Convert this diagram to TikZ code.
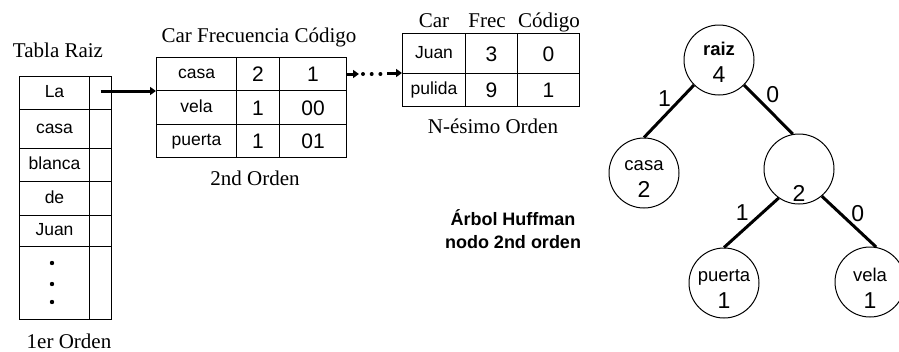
\documentclass[tikz,border=0pt]{standalone}
\usepackage{fontspec}
\setmainfont{Liberation Serif}
\setsansfont{Liberation Sans}
\usetikzlibrary{arrows.meta}
\newcommand{\cellfont}{\sffamily\fontsize{17.5}{21}\selectfont}
\newcommand{\numfont}{\sffamily\fontsize{21}{24}\selectfont}
\newcommand{\treefont}{\sffamily\fontsize{18.5}{22}\selectfont}
\newcommand{\treenum}{\sffamily\fontsize{23}{26}\selectfont}
\newcommand{\headfont}{\rmfamily\fontsize{21}{24}\selectfont}

\begin{document}
\begin{tikzpicture}[x=1pt,y=-1pt,
  cell/.style={draw,line width=1pt,inner sep=0pt,anchor=north west,font=\cellfont,text height=9pt,text depth=0pt},
  numcell/.style={cell,font=\numfont,text height=15pt},
  head/.style={font=\headfont,inner sep=0pt,anchor=base},
  hnode/.style={draw,circle,line width=1pt,minimum size=70pt,inner sep=0pt},
  hlabel/.style={align=center,font=\treefont,inner sep=0pt,yshift=#1},
  branch/.style={line width=3pt},
  bit/.style={font=\treenum,inner sep=0pt},
  link/.style={line width=3pt,-{Triangle[length=6pt,width=8pt]}}]

\useasboundingbox (0,0) rectangle (899,351);

\node[head] (tabla) at (58,57) {Tabla Raiz};
\node[cell,minimum width=70pt,minimum height=33pt] (r1a) at (19,76) {La};
\node[cell,minimum width=22pt,minimum height=33pt] (r1b) at (89,76) {};
\node[cell,minimum width=70pt,minimum height=39pt] (r2a) at (19,109) {casa};
\node[cell,minimum width=22pt,minimum height=39pt] (r2b) at (89,109) {};
\node[cell,minimum width=70pt,minimum height=33pt] (r3a) at (19,148) {blanca};
\node[cell,minimum width=22pt,minimum height=33pt] (r3b) at (89,148) {};
\node[cell,minimum width=70pt,minimum height=34pt] (r4a) at (19,181) {de};
\node[cell,minimum width=22pt,minimum height=34pt] (r4b) at (89,181) {};
\node[cell,minimum width=70pt,minimum height=31pt] (r5a) at (19,215) {Juan};
\node[cell,minimum width=22pt,minimum height=31pt] (r5b) at (89,215) {};
\node[cell,minimum width=70pt,minimum height=73pt] (r6a) at (19,246) {};
\node[cell,minimum width=22pt,minimum height=73pt] (r6b) at (89,246) {};
\foreach \y in {263,284,302}
  \fill (52,\y) circle (2.2);
\node[head] (orden1) at (69,348) {1er Orden};

\node[head] (cab2) at (259,42) {Car Frecuencia Código};
\node[cell,minimum width=80pt,minimum height=33pt] (c1a) at (156,57) {casa};
\node[numcell,minimum width=43pt,minimum height=33pt] (c1b) at (236,57) {2};
\node[numcell,minimum width=67pt,minimum height=33pt] (c1c) at (279,57) {1};
\node[cell,minimum width=80pt,minimum height=34pt] (c2a) at (156,90) {vela};
\node[numcell,minimum width=43pt,minimum height=34pt] (c2b) at (236,90) {1};
\node[numcell,minimum width=67pt,minimum height=34pt] (c2c) at (279,90) {00};
\node[cell,minimum width=80pt,minimum height=33pt] (c3a) at (156,124) {puerta};
\node[numcell,minimum width=43pt,minimum height=33pt] (c3b) at (236,124) {1};
\node[numcell,minimum width=67pt,minimum height=33pt] (c3c) at (279,124) {01};
\node[head] (orden2) at (255,185) {2nd Orden};

\node[head] (car3) at (434,27) {Car};
\node[head] (frec3) at (487,27) {Frec};
\node[head] (cod3) at (549,27) {Código};
\node[cell,minimum width=63pt,minimum height=40pt] (j1a) at (402,33) {Juan};
\node[numcell,minimum width=52pt,minimum height=40pt] (j1b) at (465,33) {3};
\node[numcell,minimum width=62pt,minimum height=40pt] (j1c) at (517,33) {0};
\node[cell,minimum width=63pt,minimum height=33pt] (j2a) at (402,73) {pulida};
\node[numcell,minimum width=52pt,minimum height=33pt] (j2b) at (465,73) {9};
\node[numcell,minimum width=62pt,minimum height=33pt] (j2c) at (517,73) {1};
\node[head] (ordenN) at (493,133) {N-ésimo Orden};

\draw[link] (r1b.center |- c1a.south west) -- (c1a.south west);
\coordinate (d1) at ([xshift=12pt]c1c.east);
\coordinate (d2) at (j2a.north west);
\draw[link] (c1c.east) -- (d1);
\draw[line width=4pt,line cap=round,dash pattern=on 0pt off 8.7pt] ([xshift=4pt]d1) -- ([xshift=22pt]d1);
\draw[link] ([xshift=-15pt]d2) -- (d2);

\node[font=\sffamily\bfseries\fontsize{18}{23}\selectfont,align=center] (titulo) at (513,229) {Árbol Huffman\\nodo 2nd orden};

\node[hnode,label={[hlabel=-2pt]center:\textbf{raiz}\\[5pt]{\treenum 4}}] (raiz) at (719,60) {};
\node[hnode,label={[hlabel=-6pt]center:casa\\[5pt]{\treenum 2}}] (casa) at (644,173) {};
\node[hnode,label={[hlabel=-24pt,font=\treenum]center:2}] (n2) at (799,169) {};
\node[hnode,label={[hlabel=-6pt]center:puerta\\[5pt]{\treenum 1}}] (puerta) at (724,283) {};
\node[hnode,label={[hlabel=-6pt]center:vela\\[5pt]{\treenum 1}}] (vela) at (870,282) {};

\draw[branch] (raiz.south west) -- (casa.north) node[bit,pos=0.25,left=9pt] {1};
\draw[branch] (raiz.south east) -- (n2.100) node[bit,pos=0.2,right=11pt] {0};
\draw[branch] (n2.235) -- (puerta.north) node[bit,pos=0.3,left=12pt] {1};
\draw[branch] (n2.-50) -- (vela.80) node[bit,pos=0.35,right=9pt] {0};
\end{tikzpicture}
\end{document}
